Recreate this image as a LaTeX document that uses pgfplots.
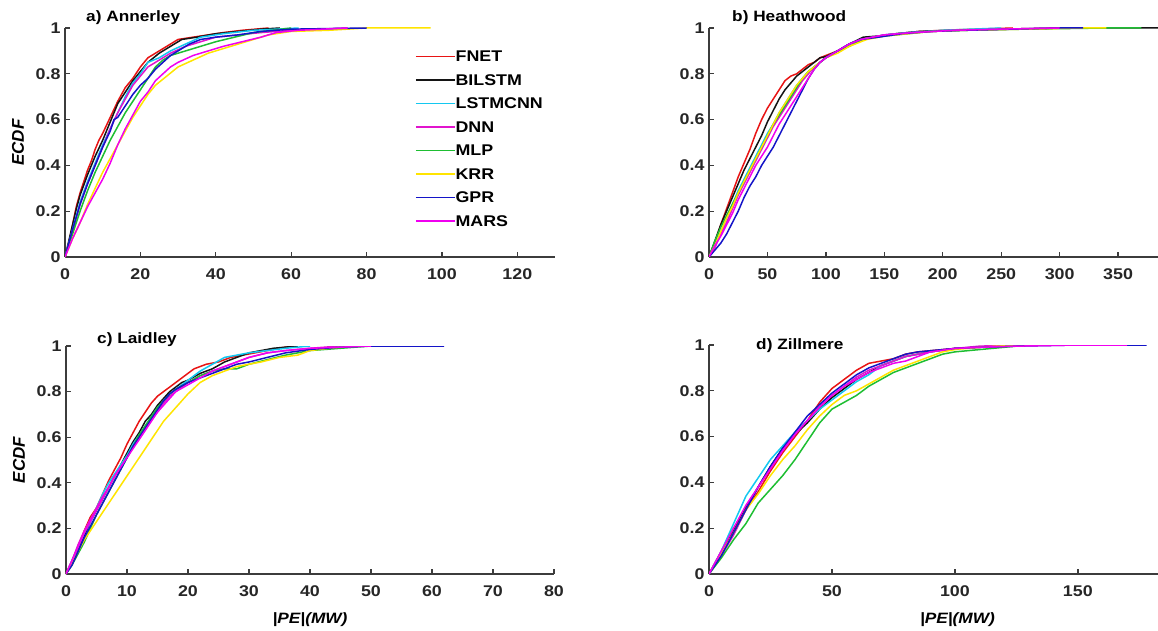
\documentclass[border=0pt]{standalone}
\usepackage{pgfplots}
\pgfplotsset{compat=1.18}
\usepackage{fontspec}
\setmainfont{Liberation Sans}[FakeStretch=1.15]
\newfontfamily\ylabfont{Liberation Sans}
\definecolor{cF}{RGB}{232,20,20}
\definecolor{cB}{RGB}{20,20,20}
\definecolor{cL}{RGB}{20,200,240}
\definecolor{cD}{RGB}{225,20,205}
\definecolor{cM}{RGB}{30,190,50}
\definecolor{cK}{RGB}{255,228,0}
\definecolor{cG}{RGB}{20,20,200}
\definecolor{cR}{RGB}{240,0,240}
\definecolor{axgray}{RGB}{60,60,60}
\pgfplotsset{panel/.style={
  scale only axis, anchor=south west,
  axis x line*=bottom, axis y line*=left,
  axis line style={line width=1.3pt, color=axgray},
  tick align=inside, major tick length=5pt,
  every tick/.style={line width=1.3pt, color=axgray},
  ymin=0, ymax=1, xmin=0,
  ytick={0,0.2,0.4,0.6,0.8,1}, yticklabels={0,0.2,0.4,0.6,0.8,1},
  /pgf/number format/assume math mode=true,
  ticklabel style={font=\fontsize{15.5}{15.5}\selectfont\bfseries, color=black!85},
  xticklabel style={yshift=-8pt},
  yticklabel style={xshift=-1pt},
  every axis plot/.append style={line width=1.5pt, line join=round},
  ylabel style={font=\ylabfont\fontsize{17}{17}\selectfont\bfseries\itshape, at={(rel axis cs:0,0.5)}, anchor=center, yshift=47pt},
  xlabel style={font=\fontsize{15}{15}\selectfont\bfseries\itshape, anchor=center, yshift=-46pt},
}}
\begin{document}
\begin{tikzpicture}
\path[use as bounding box] (0pt,0pt) rectangle (1158pt,630pt);
% ---------------- a) Annerley
\begin{axis}[panel, at={(65pt,373pt)}, width=490pt, height=229pt, xmax=130,
  xtick={0,20,...,120}, ylabel={ECDF},
  legend cell align=left,
  legend style={draw=none, fill=none, at={(rel axis cs:0.708,0.91)}, anchor=north west,
    font=\fontsize{15.5}{15.5}\selectfont\bfseries, row sep=12.5pt,
    nodes={inner sep=0pt, text height=11pt, text depth=0pt}},
  legend image code/.code={\draw[#1, line width=1.5pt] (0pt,0pt) -- (39pt,0pt);},
  /tikz/every even column/.append style={column sep=3pt}]
\addplot[cF] coordinates {(0,0) (1,0.06) (2,0.14) (3,0.22) (4,0.28) (5,0.33) (6,0.38) (7,0.42) (8,0.47) (9,0.51) (10,0.54) (12,0.61) (14,0.68) (16,0.74) (18,0.78) (20,0.83) (22,0.87) (24,0.89) (26,0.91) (28,0.93) (30,0.95) (34,0.96) (38,0.97) (42,0.98) (47,0.99) (54,1)};
\addplot[cB] coordinates {(0,0) (1,0.07) (2,0.14) (3,0.21) (4,0.27) (6,0.36) (8,0.44) (10,0.51) (12,0.59) (13,0.63) (14,0.67) (16,0.72) (18,0.77) (20,0.81) (22,0.85) (25,0.89) (28,0.92) (31,0.95) (35,0.96) (40,0.975) (46,0.985) (52,0.995) (57,1)};
\addplot[cL] coordinates {(0,0) (2,0.12) (4,0.24) (6,0.33) (8,0.41) (10,0.49) (12,0.56) (14,0.63) (16,0.7) (18,0.76) (20,0.8) (22,0.85) (25,0.87) (28,0.9) (32,0.93) (36,0.96) (42,0.975) (50,0.99) (62,1)};
\addplot[cD] coordinates {(0,0) (2,0.11) (4,0.23) (6,0.32) (8,0.4) (10,0.48) (12,0.56) (14,0.63) (16,0.69) (18,0.75) (20,0.79) (22,0.83) (25,0.86) (28,0.89) (32,0.92) (36,0.94) (40,0.96) (46,0.97) (52,0.98) (60,0.99) (75,1)};
\addplot[cM] coordinates {(0,0) (2,0.1) (4,0.2) (6,0.29) (8,0.37) (10,0.44) (12,0.51) (14,0.57) (16,0.63) (18,0.68) (20,0.73) (22,0.78) (24,0.83) (26,0.86) (28,0.88) (32,0.9) (36,0.92) (40,0.94) (45,0.96) (50,0.98) (55,0.99) (60,1)};
\addplot[cK] coordinates {(0,0) (2,0.08) (4,0.15) (6,0.23) (8,0.3) (10,0.37) (12,0.43) (14,0.49) (16,0.55) (18,0.61) (20,0.66) (22,0.71) (24,0.75) (27,0.79) (30,0.83) (34,0.86) (38,0.89) (42,0.91) (46,0.93) (50,0.95) (54,0.97) (60,0.985) (70,0.99) (80,1) (97,1)};
\addplot[cG] coordinates {(0,0) (2,0.12) (4,0.23) (6,0.32) (8,0.4) (10,0.48) (12,0.55) (13,0.6) (14,0.61) (16,0.66) (18,0.71) (20,0.75) (22,0.78) (24,0.82) (26,0.85) (28,0.88) (30,0.9) (33,0.93) (36,0.95) (40,0.96) (46,0.97) (52,0.985) (60,0.995) (80,1)};
\addplot[cR] coordinates {(0,0) (2,0.08) (4,0.15) (6,0.22) (8,0.28) (10,0.34) (12,0.41) (14,0.49) (16,0.56) (18,0.62) (20,0.68) (22,0.72) (24,0.77) (26,0.8) (28,0.83) (30,0.85) (34,0.88) (38,0.9) (42,0.92) (47,0.94) (52,0.96) (56,0.98) (62,0.99) (75,1)};
\legend{FNET,BILSTM,LSTMCNN,DNN,MLP,KRR,GPR,MARS}
\end{axis}
% ---------------- b) Heathwood
\begin{axis}[panel, at={(709pt,373pt)}, width=450pt, height=229pt, xmax=385,
  xtick={0,50,...,350}]
\addplot[cF] coordinates {(0,0) (5,0.06) (10,0.14) (15,0.21) (20,0.28) (25,0.35) (30,0.41) (35,0.47) (40,0.54) (45,0.6) (50,0.65) (55,0.69) (60,0.73) (65,0.77) (70,0.79) (75,0.8) (80,0.82) (85,0.84) (90,0.85) (95,0.87) (100,0.88) (110,0.9) (120,0.93) (130,0.95) (145,0.965) (160,0.975) (180,0.985) (200,0.99) (230,0.995) (260,1)};
\addplot[cB] coordinates {(0,0) (5,0.07) (10,0.14) (15,0.2) (20,0.26) (25,0.32) (30,0.38) (35,0.43) (40,0.48) (45,0.53) (50,0.59) (55,0.64) (60,0.69) (65,0.73) (70,0.76) (75,0.79) (80,0.81) (85,0.83) (90,0.85) (95,0.87) (100,0.875) (110,0.9) (120,0.93) (132,0.96) (145,0.965) (160,0.975) (180,0.985) (210,0.99) (250,0.995) (300,1) (385,1)};
\addplot[cL] coordinates {(0,0) (5,0.05) (10,0.11) (15,0.17) (20,0.23) (25,0.29) (30,0.34) (35,0.39) (40,0.44) (45,0.49) (50,0.54) (55,0.58) (60,0.63) (65,0.67) (70,0.71) (75,0.75) (80,0.78) (85,0.81) (90,0.83) (95,0.85) (100,0.87) (110,0.9) (120,0.93) (130,0.95) (150,0.97) (170,0.98) (200,0.99) (250,1)};
\addplot[cD] coordinates {(0,0) (5,0.04) (10,0.1) (15,0.15) (20,0.21) (25,0.27) (30,0.32) (35,0.37) (40,0.42) (45,0.47) (50,0.52) (55,0.57) (60,0.61) (65,0.65) (70,0.69) (75,0.73) (80,0.77) (85,0.8) (90,0.83) (95,0.85) (100,0.87) (110,0.9) (120,0.93) (130,0.95) (150,0.97) (175,0.98) (210,0.99) (250,0.995) (300,1)};
\addplot[cM] coordinates {(0,0) (5,0.07) (10,0.13) (15,0.18) (20,0.23) (25,0.28) (30,0.33) (35,0.38) (40,0.43) (45,0.48) (50,0.53) (55,0.58) (60,0.62) (65,0.66) (70,0.7) (75,0.74) (80,0.78) (85,0.81) (90,0.83) (95,0.85) (100,0.87) (110,0.9) (120,0.92) (132,0.95) (150,0.965) (170,0.975) (190,0.985) (220,0.99) (270,0.995) (340,1) (370,1)};
\addplot[cK] coordinates {(0,0) (5,0.05) (10,0.11) (15,0.17) (20,0.22) (25,0.28) (30,0.33) (35,0.38) (40,0.43) (45,0.48) (50,0.53) (55,0.58) (60,0.63) (65,0.67) (70,0.71) (75,0.75) (80,0.78) (85,0.81) (90,0.83) (95,0.85) (100,0.87) (110,0.89) (120,0.92) (135,0.95) (150,0.965) (170,0.975) (190,0.985) (220,0.99) (270,0.995) (320,1) (340,1)};
\addplot[cG] coordinates {(0,0) (5,0.03) (10,0.06) (15,0.1) (20,0.15) (25,0.2) (30,0.26) (35,0.31) (40,0.35) (45,0.4) (50,0.44) (55,0.48) (60,0.53) (65,0.58) (70,0.63) (75,0.68) (80,0.73) (85,0.78) (90,0.82) (95,0.85) (100,0.87) (110,0.9) (120,0.93) (130,0.95) (145,0.96) (165,0.975) (190,0.985) (220,0.99) (260,0.995) (300,1) (320,1)};
\addplot[cR] coordinates {(0,0) (5,0.05) (10,0.09) (15,0.14) (20,0.19) (25,0.25) (30,0.3) (35,0.35) (40,0.4) (45,0.44) (50,0.48) (55,0.53) (60,0.58) (65,0.62) (70,0.66) (75,0.7) (80,0.74) (85,0.78) (90,0.82) (95,0.85) (100,0.87) (110,0.9) (120,0.93) (130,0.95) (150,0.97) (175,0.98) (210,0.99) (250,0.995) (300,1)};
\end{axis}
% ---------------- c) Laidley
\begin{axis}[panel, at={(66pt,56pt)}, width=488pt, height=228pt, xmax=80,
  xtick={0,10,...,80}, ylabel={ECDF}, xlabel={|PE|(MW)},
  xlabel style={at={(rel axis cs:0.5,0)}}]
\addplot[cF] coordinates {(0,0) (1,0.06) (2,0.12) (3,0.19) (4,0.25) (5,0.29) (6,0.35) (7,0.41) (8,0.46) (9,0.51) (10,0.57) (11,0.62) (12,0.67) (13,0.71) (14,0.75) (15,0.78) (16,0.8) (17,0.82) (18,0.84) (19,0.86) (20,0.88) (21,0.9) (22,0.91) (23,0.92) (25,0.93) (27,0.95) (29,0.96) (31,0.97) (33,0.98) (35,0.99) (37,1)};
\addplot[cB] coordinates {(0,0) (1,0.05) (2,0.11) (3,0.17) (4,0.23) (5,0.28) (6,0.33) (7,0.38) (8,0.43) (9,0.48) (10,0.53) (11,0.58) (12,0.62) (13,0.67) (14,0.7) (15,0.74) (16,0.77) (17,0.8) (18,0.82) (19,0.84) (20,0.85) (22,0.88) (24,0.9) (26,0.93) (28,0.95) (30,0.97) (32,0.98) (34,0.99) (38,1)};
\addplot[cL] coordinates {(0,0) (1,0.06) (2,0.12) (3,0.18) (4,0.23) (5,0.29) (6,0.35) (7,0.4) (8,0.44) (9,0.48) (10,0.52) (11,0.57) (12,0.61) (13,0.65) (14,0.69) (15,0.73) (16,0.76) (17,0.79) (18,0.81) (20,0.85) (22,0.89) (24,0.92) (26,0.95) (28,0.96) (30,0.97) (33,0.98) (36,0.99) (40,1)};
\addplot[cD] coordinates {(0,0) (1,0.06) (2,0.13) (3,0.19) (4,0.24) (5,0.29) (6,0.34) (7,0.38) (8,0.43) (9,0.47) (10,0.51) (11,0.56) (12,0.6) (13,0.64) (14,0.68) (15,0.71) (16,0.75) (17,0.78) (18,0.8) (20,0.84) (22,0.87) (24,0.89) (26,0.91) (28,0.93) (30,0.95) (33,0.97) (36,0.98) (40,0.99) (45,1)};
\addplot[cM] coordinates {(0,0) (1,0.04) (2,0.09) (3,0.14) (4,0.2) (5,0.26) (6,0.31) (7,0.36) (8,0.41) (9,0.46) (10,0.51) (11,0.56) (12,0.61) (13,0.65) (14,0.69) (15,0.73) (16,0.76) (17,0.79) (18,0.81) (20,0.84) (22,0.87) (24,0.89) (26,0.9) (28,0.9) (30,0.92) (33,0.94) (36,0.96) (40,0.98) (45,0.99) (50,1)};
\addplot[cK] coordinates {(0,0) (1,0.05) (2,0.1) (3,0.15) (4,0.19) (5,0.23) (6,0.27) (7,0.31) (8,0.35) (9,0.39) (10,0.43) (11,0.47) (12,0.51) (13,0.55) (14,0.59) (15,0.63) (16,0.67) (17,0.7) (18,0.73) (19,0.76) (20,0.79) (22,0.84) (24,0.87) (26,0.89) (28,0.91) (30,0.92) (32,0.93) (35,0.95) (38,0.96) (40,0.98) (43,0.99) (47,1)};
\addplot[cG] coordinates {(0,0) (1,0.04) (2,0.1) (3,0.16) (4,0.21) (5,0.26) (6,0.31) (7,0.36) (8,0.41) (9,0.46) (10,0.51) (11,0.56) (12,0.6) (13,0.64) (14,0.68) (15,0.72) (16,0.76) (17,0.79) (18,0.81) (20,0.84) (22,0.86) (24,0.88) (26,0.9) (28,0.92) (30,0.93) (33,0.95) (36,0.97) (40,0.985) (45,0.995) (50,1) (62,1)};
\addplot[cR] coordinates {(0,0) (1,0.06) (2,0.12) (3,0.18) (4,0.23) (5,0.28) (6,0.33) (7,0.38) (8,0.43) (9,0.47) (10,0.51) (11,0.55) (12,0.59) (13,0.63) (14,0.67) (15,0.71) (16,0.74) (17,0.77) (18,0.8) (20,0.83) (22,0.86) (24,0.89) (26,0.91) (28,0.93) (30,0.95) (33,0.97) (36,0.98) (40,0.99) (50,1)};
\end{axis}
% ---------------- d) Zillmere
\begin{axis}[panel, at={(709pt,56pt)}, width=450pt, height=229pt, xmax=183,
  xtick={0,50,100,150}, xlabel={|PE|(MW)},
  xlabel style={at={(rel axis cs:0.552,0)}}]
\addplot[cF] coordinates {(0,0) (5,0.1) (10,0.2) (15,0.28) (20,0.36) (25,0.45) (30,0.53) (35,0.6) (40,0.67) (45,0.75) (50,0.81) (55,0.85) (60,0.89) (65,0.92) (70,0.93) (75,0.94) (80,0.96) (85,0.97) (90,0.975) (100,0.985) (110,0.99) (120,1)};
\addplot[cB] coordinates {(0,0) (5,0.09) (10,0.19) (15,0.29) (20,0.38) (25,0.47) (30,0.55) (35,0.61) (40,0.66) (45,0.72) (50,0.77) (55,0.81) (60,0.85) (65,0.88) (70,0.91) (75,0.93) (80,0.95) (85,0.96) (90,0.97) (100,0.985) (110,0.99) (125,1)};
\addplot[cL] coordinates {(0,0) (5,0.1) (10,0.22) (15,0.34) (20,0.42) (25,0.5) (30,0.56) (35,0.62) (40,0.67) (45,0.72) (50,0.76) (55,0.8) (60,0.84) (65,0.87) (70,0.91) (75,0.93) (80,0.95) (85,0.96) (90,0.97) (100,0.985) (115,0.995) (130,1)};
\addplot[cD] coordinates {(0,0) (5,0.08) (10,0.17) (15,0.28) (20,0.38) (25,0.46) (30,0.54) (35,0.61) (40,0.67) (45,0.73) (50,0.78) (55,0.82) (60,0.86) (65,0.89) (70,0.91) (75,0.93) (80,0.95) (85,0.96) (90,0.97) (100,0.985) (110,0.995) (125,1)};
\addplot[cM] coordinates {(0,0) (5,0.07) (10,0.15) (15,0.22) (20,0.31) (25,0.37) (30,0.43) (35,0.5) (40,0.58) (45,0.66) (50,0.72) (55,0.75) (60,0.78) (65,0.82) (70,0.85) (75,0.88) (80,0.9) (85,0.92) (90,0.94) (95,0.96) (100,0.97) (110,0.98) (120,0.99) (130,1)};
\addplot[cK] coordinates {(0,0) (5,0.09) (10,0.18) (15,0.28) (20,0.35) (25,0.43) (30,0.5) (35,0.56) (40,0.63) (45,0.69) (50,0.74) (55,0.78) (60,0.8) (65,0.83) (70,0.86) (75,0.89) (80,0.91) (85,0.93) (90,0.95) (95,0.97) (100,0.98) (110,0.99) (125,1)};
\addplot[cG] coordinates {(0,0) (5,0.08) (10,0.18) (15,0.28) (20,0.38) (25,0.47) (30,0.55) (35,0.62) (40,0.69) (45,0.74) (50,0.79) (55,0.83) (60,0.87) (65,0.9) (70,0.92) (75,0.94) (80,0.96) (85,0.97) (90,0.975) (100,0.985) (110,0.99) (125,0.995) (150,1) (178,1)};
\addplot[cR] coordinates {(0,0) (5,0.1) (10,0.2) (15,0.3) (20,0.38) (25,0.46) (30,0.54) (35,0.61) (40,0.67) (45,0.73) (50,0.78) (55,0.82) (60,0.85) (65,0.88) (70,0.9) (75,0.92) (80,0.93) (85,0.95) (90,0.97) (100,0.985) (110,0.99) (125,0.995) (150,1) (170,1)};
\end{axis}
% titles
\node[anchor=base west, font=\fontsize{15}{15}\selectfont\bfseries, inner sep=0pt] at (86pt,608pt) {a) Annerley};
\node[anchor=base west, font=\fontsize{15}{15}\selectfont\bfseries, inner sep=0pt] at (732pt,608pt) {b) Heathwood};
\node[anchor=base west, font=\fontsize{15}{15}\selectfont\bfseries, inner sep=0pt] at (97pt,287pt) {c) Laidley};
\node[anchor=base west, font=\fontsize{15}{15}\selectfont\bfseries, inner sep=0pt] at (756pt,281pt) {d) Zillmere};
\end{tikzpicture}
\end{document}
